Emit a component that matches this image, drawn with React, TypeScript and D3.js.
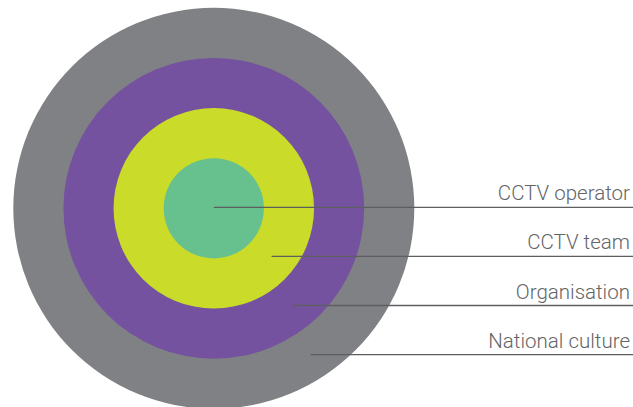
import React, { useRef, useEffect } from 'react';
import * as d3 from 'd3';

// rings, innermost first
const layers = ['CCTV operator', 'CCTV team', 'Organisation', 'National culture'];
const ringIndex = [1, 2, 3, 4]; // outer edge of each ring, in ring units
const colors = ['#67c18f', '#cadb29', '#7452a0', '#808184'];

const App = () => {
  const svgRef = useRef<SVGSVGElement>(null);
  const width = 633;
  const height = 407;

  useEffect(() => {
    const svg = d3.select(svgRef.current);
    svg.selectAll('*').remove();

    const cx = 213.8;
    const cy = 208.3;

    // ring units -> pixel radius
    const r = d3.scaleLinear().domain([0, 4]).range([0, 200.5]);
    // label rows below the centre
    const y = d3.scaleLinear().domain([0, 3]).range([207.3, 354.6]);

    const g = svg.append('g');

    // draw outer first so inner sits on top
    g.selectAll('circle')
      .data(d3.range(layers.length).reverse())
      .enter()
      .append('circle')
      .attr('cx', cx)
      .attr('cy', cy)
      .attr('r', i => r(ringIndex[i]))
      .attr('fill', i => colors[i]);

    // leader lines start in the middle of each ring
    const startX = (i: number) => {
      const rm = i === 0 ? 0 : r(ringIndex[i] - 0.5);
      const dy = y(i) - cy;
      return cx + Math.sqrt(Math.max(0, rm * rm - dy * dy));
    };

    g.selectAll('line.leader')
      .data(layers)
      .enter()
      .append('line')
      .attr('class', 'leader')
      .attr('x1', (_, i) => startX(i))
      .attr('x2', width)
      .attr('y1', (_, i) => y(i))
      .attr('y2', (_, i) => y(i))
      .attr('stroke', '#5d5e60')
      .attr('stroke-width', 1.3);

    g.selectAll('text.label')
      .data(layers)
      .enter()
      .append('text')
      .attr('class', 'label')
      .attr('x', 630)
      .attr('y', (_, i) => y(i) - 7)
      .attr('text-anchor', 'end')
      .style('font-family', 'Roboto, "Liberation Sans", sans-serif')
      .style('font-weight', 300)
      .style('font-size', '20.5px')
      .attr('fill', '#636466')
      .text(d => d);
  }, []);

  return (
    <svg
      ref={svgRef}
      width={width}
      height={height}
      style={{ position: 'absolute', left: 0, top: 0, background: '#fff' }}
    ></svg>
  );
};

export default App;
